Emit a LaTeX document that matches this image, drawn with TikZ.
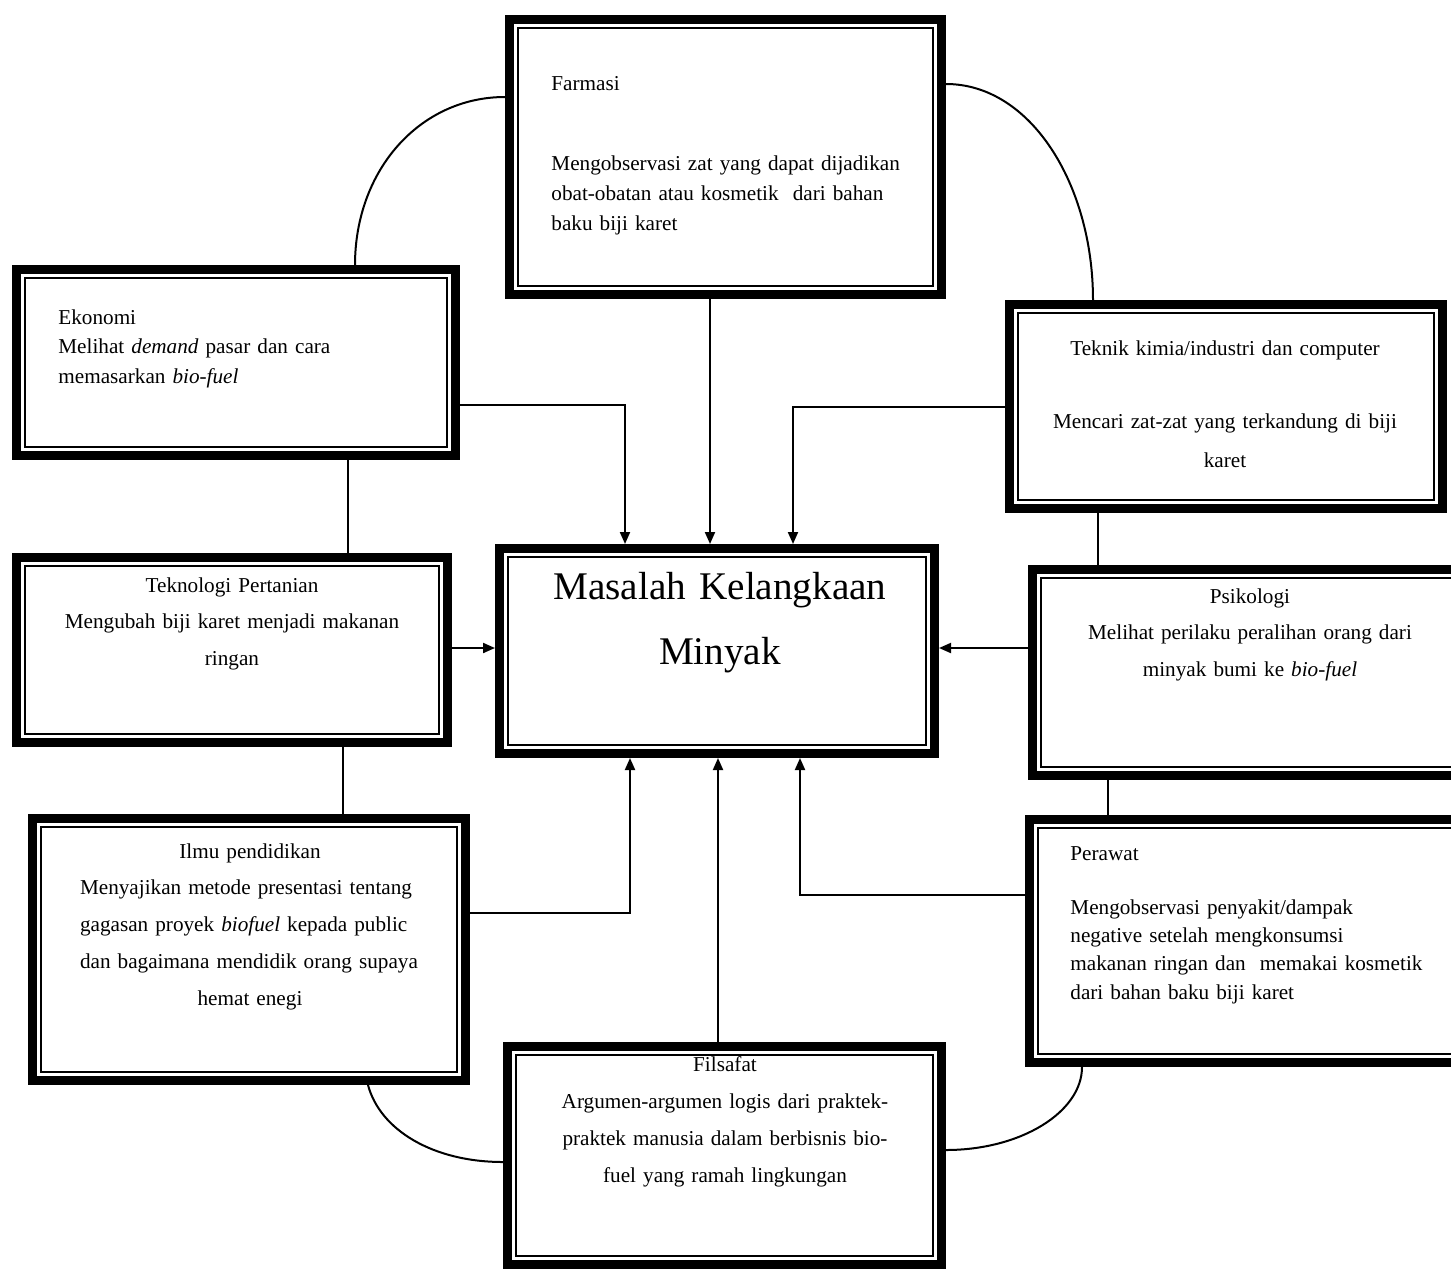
\documentclass[tikz,border=0pt]{standalone}
\usepackage{fontspec}
\setmainfont{Liberation Serif}
\usetikzlibrary{arrows.meta,fit}
\newcommand{\jline}[1]{\makebox[\linewidth][s]{#1}}

\begin{document}
\begin{tikzpicture}[x=0.5pt,y=-0.5pt,>={Triangle[length=6pt,width=5pt]},
  panel/.style={draw,line width=4.5pt,inner sep=-2.25pt,
    path picture={\draw[line width=1.1pt]
      ([shift={(4.3pt,-4.3pt)}]path picture bounding box.north west) rectangle
      ([shift={(-4.3pt,4.3pt)}]path picture bounding box.south east);}},
  txt/.style={inner sep=0pt,font=\fontsize{10.6}{#1}\selectfont},
  link/.style={line width=1pt}]
  \useasboundingbox (0,0) rectangle (1451,1270);
  % boxes
  \node[panel,fit={(505,15) (946,299)}] (farmasi) {};
  \node[panel,fit={(12,265) (460,460)}] (ekonomi) {};
  \node[panel,fit={(1005,300) (1447,513)}] (teknik) {};
  \node[panel,fit={(12,553) (452,747)}] (teknologi) {};
  \node[panel,fit={(495,544) (939,758)}] (masalah) {};
  \node[panel,fit={(1028,565) (1470,780)}] (psikologi) {};
  \node[panel,fit={(28,814) (470,1085)}] (ilmu) {};
  \node[panel,fit={(1025,815) (1470,1067)}] (perawat) {};
  \node[panel,fit={(503,1042) (946,1269)}] (filsafat) {};
  % texts
  \node[txt=15pt,text width=200pt,align=left,anchor=base west] (farmasi-txt) at (551,90)
    {Farmasi\\[25pt]Mengobservasi zat yang dapat dijadikan\\obat-obatan atau kosmetik\ \ dari bahan\\baku biji karet};
  \node[txt=14.75pt,text width=200pt,align=left,anchor=base west] (ekonomi-txt) at (58,324)
    {Ekonomi\\Melihat \textit{demand} pasar dan cara\\memasarkan \textit{bio-fuel}};
  \node[txt=19.5pt,text width=210pt,align=center,anchor=base] (teknik-txt) at (1225,355)
    {Teknik kimia/industri dan computer\\[17pt]Mencari zat-zat yang terkandung di biji\\karet};
  \node[txt=18.25pt,text width=210pt,align=center,anchor=base] (teknologi-txt) at (232,592)
    {Teknologi Pertanian\\Mengubah biji karet menjadi makanan\\ringan};
  \node[inner sep=0pt,font=\fontsize{19.6}{32.5}\selectfont,text width=220pt,align=center,anchor=base] (masalah-txt) at (720,599)
    {Masalah Kelangkaan\\Minyak};
  \node[txt=18.25pt,text width=210pt,align=center,anchor=base] (psikologi-txt) at (1250,603)
    {Psikologi\\Melihat perilaku peralihan orang dari\\minyak bumi ke \textit{bio-fuel}};
  \node[txt=18.4pt,text width=170pt,align=center,anchor=base] (ilmu-txt) at (250,858)
    {Ilmu pendidikan\\\jline{Menyajikan metode presentasi tentang}\\\jline{gagasan proyek \textit{biofuel} kepada public}\\\jline{dan bagaimana mendidik orang supaya}\\hemat enegi};
  \node[txt=14.2pt,text width=200pt,align=left,anchor=base west] (perawat-txt) at (1070,860)
    {Perawat\\[12.8pt]Mengobservasi penyakit/dampak\\negative setelah mengkonsumsi\\makanan ringan dan\ \ memakai kosmetik\\dari bahan baku biji karet};
  \node[txt=18.5pt,text width=210pt,align=center,anchor=base] (filsafat-txt) at (725,1071)
    {Filsafat\\Argumen-argumen logis dari praktek-\\praktek manusia dalam berbisnis bio-\\fuel yang ramah lingkungan};
  % arrows into the problem box
  \draw[link,->] (farmasi.south -| 710,0) -- (masalah.north -| 710,0);
  \draw[link,->] (ekonomi.east |- 0,405) -| (masalah.north -| 625,0);
  \draw[link,->] (teknik.west) -| (masalah.north -| 793,0);
  \draw[link,->] (teknologi.east |- 0,648) -- (masalah.west |- 0,648);
  \draw[link,->] (psikologi.west |- 0,648) -- (masalah.east |- 0,648);
  \draw[link,->] (ilmu.east |- 0,913) -| (masalah.south -| 630,0);
  \draw[link,->] (filsafat.north -| 718,0) -- (masalah.south -| 718,0);
  \draw[link,->] (perawat.west |- 0,895) -| (masalah.south -| 800,0);
  % plain links between neighbours
  \draw[link] (ekonomi.south -| 348,0) -- (teknologi.north -| 348,0);
  \draw[link] (teknologi.south -| 343,0) -- (ilmu.north -| 343,0);
  \draw[link] (teknik.south -| 1098,0) -- (psikologi.north -| 1098,0);
  \draw[link] (psikologi.south -| 1108,0) -- (perawat.north -| 1108,0);
  % corner arcs
  \draw[link] (ekonomi.north -| 355,0) .. controls +(0,-95) and +(-85,0) .. (farmasi.west |- 0,97);
  \draw[link] (farmasi.east |- 0,84) .. controls +(85,0) and +(0,-115) .. (teknik.north -| 1093,0);
  \draw[link] (ilmu.south -| 368,0) .. controls +(12,45) and +(-70,0) .. (filsafat.west |- 0,1162);
  \draw[link] (filsafat.east |- 0,1150) .. controls +(75,0) and +(0,45) .. (perawat.south -| 1082,0);
\end{tikzpicture}
\end{document}
